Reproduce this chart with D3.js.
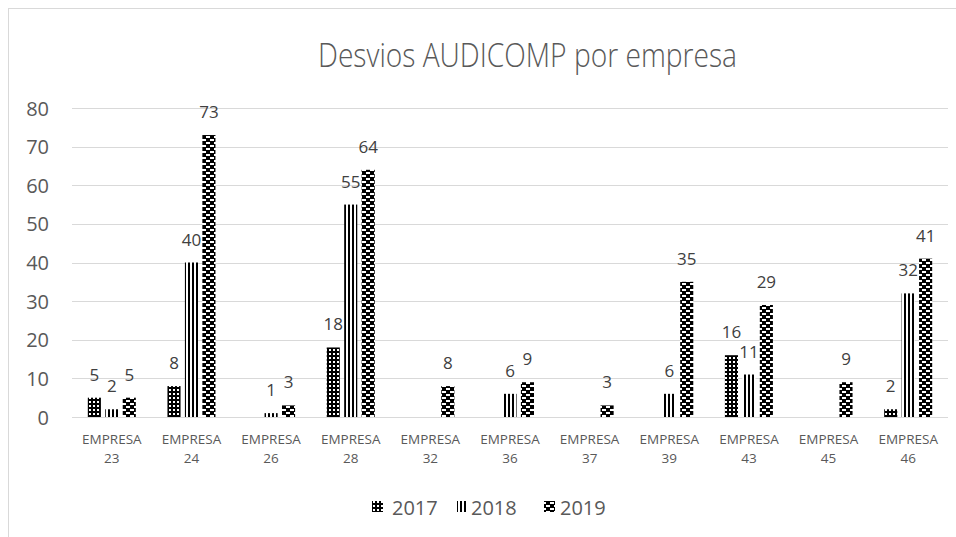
<!DOCTYPE html>
<html><head><meta charset="utf-8">
<script src="https://cdn.jsdelivr.net/npm/d3@7"></script>
<style>body{margin:0;background:#fff}svg{display:block}text{font-family:"Open Sans",sans-serif}</style>
</head><body>
<svg id="c" width="956" height="537"></svg>
<script>
const categories = ["EMPRESA 23","EMPRESA 24","EMPRESA 26","EMPRESA 28","EMPRESA 32","EMPRESA 36","EMPRESA 37","EMPRESA 39","EMPRESA 43","EMPRESA 45","EMPRESA 46"];
const years = ["2017","2018","2019"];
const v2017 = [5,8,null,18,null,null,null,null,16,null,2];
const v2018 = [2,40,1,55,null,6,null,6,11,null,32];
const v2019 = [5,73,3,64,8,9,3,35,29,9,41];
const yTicks = [0,10,20,30,40,50,60,70,80];
const title = "Desvios AUDICOMP por empresa";

const series = [v2017, v2018, v2019];
const svg = d3.select("#c");
const defs = svg.append("defs");

// patterns
const p1 = defs.append("pattern").attr("id","p2017").attr("patternUnits","userSpaceOnUse").attr("width",4).attr("height",4);
p1.append("rect").attr("width",4).attr("height",4).attr("fill","#000");
p1.append("rect").attr("x",1).attr("y",1).attr("width",2).attr("height",2).attr("fill","#fff");
const p2 = defs.append("pattern").attr("id","p2018").attr("patternUnits","userSpaceOnUse").attr("width",4).attr("height",4);
p2.append("rect").attr("width",4).attr("height",4).attr("fill","#fff");
p2.append("rect").attr("x",0).attr("width",2).attr("height",4).attr("fill","#000");
const p3 = defs.append("pattern").attr("id","p2019").attr("patternUnits","userSpaceOnUse").attr("width",8).attr("height",6);
p3.append("rect").attr("width",8).attr("height",6).attr("fill","#000");
p3.append("rect").attr("x",2).attr("y",1).attr("width",4).attr("height",2).attr("fill","#fff");
p3.append("rect").attr("x",6).attr("y",4).attr("width",4).attr("height",2).attr("fill","#fff");
p3.append("rect").attr("x",-2).attr("y",4).attr("width",4).attr("height",2).attr("fill","#fff");
const fills = ["url(#p2017)","url(#p2018)","url(#p2019)"];

// frame
svg.append("rect").attr("x",8.5).attr("y",8.5).attr("width",1000).attr("height",600)
  .attr("fill","#fff").attr("stroke","#d9d9d9");

const x0 = d3.scaleBand().domain(categories).range([72,948]);
const x1 = d3.scaleBand().domain(years).range([0,48]).paddingInner(0.25);
const off = (x0.bandwidth()-48)/2;
const y = d3.scaleLinear().domain([0,80]).range([417,108]);

// grid
svg.append("g").selectAll("line").data(yTicks).join("line")
  .attr("x1",72).attr("x2",948).attr("y1",d=>Math.round(y(d))+0.5).attr("y2",d=>Math.round(y(d))+0.5)
  .attr("stroke","#d9d9d9").attr("stroke-width",1);

// y axis labels
const yAxis = d3.axisLeft(y).tickValues(yTicks).tickSize(0).tickPadding(0);
const ga = svg.append("g").attr("transform","translate(49,0)").call(yAxis);
ga.select(".domain").remove();
ga.selectAll("text").attr("font-size",20).attr("fill","#595959").attr("font-family","'Open Sans',sans-serif").attr("dy","0.35em");

// bars
categories.forEach((c,i)=>{
  series.forEach((s,j)=>{
    const v = s[i];
    if (v==null) return;
    const bx = x0(c)+off+x1(years[j]);
    svg.append("rect").attr("x",bx).attr("y",y(v)).attr("width",x1.bandwidth()).attr("height",y(0)-y(v))
      .attr("fill",fills[j]);
    svg.append("text").attr("x",bx+x1.bandwidth()/2).attr("y",y(v)-17).attr("text-anchor","middle")
      .attr("font-size",17).attr("fill","#404040").text(v);
  });
});

// x labels
const gx = svg.append("g");
categories.forEach(c=>{
  const parts = c.split(" ");
  const cx = x0(c)+x0.bandwidth()/2;
  gx.append("text").attr("x",cx).attr("y",444).attr("text-anchor","middle").attr("font-size",13.5).attr("fill","#595959").text(parts[0]);
  gx.append("text").attr("x",cx).attr("y",463).attr("text-anchor","middle").attr("font-size",13.5).attr("fill","#595959").text(parts[1]);
});

// title
svg.append("text").attr("x",318).attr("y",67).attr("font-size",33).attr("font-weight",300).attr("fill","#595959")
  .attr("textLength",419).attr("lengthAdjust","spacingAndGlyphs").text(title);

// legend
const legX = [372,457,544];
const legT = [392,471,560];
years.forEach((yr,j)=>{
  svg.append("rect").attr("x",legX[j]).attr("y",501).attr("width",11).attr("height",11).attr("fill",fills[j]);
  svg.append("text").attr("x",legT[j]).attr("y",515).attr("font-size",20).attr("fill","#595959").text(yr);
});
</script>
</body></html>
